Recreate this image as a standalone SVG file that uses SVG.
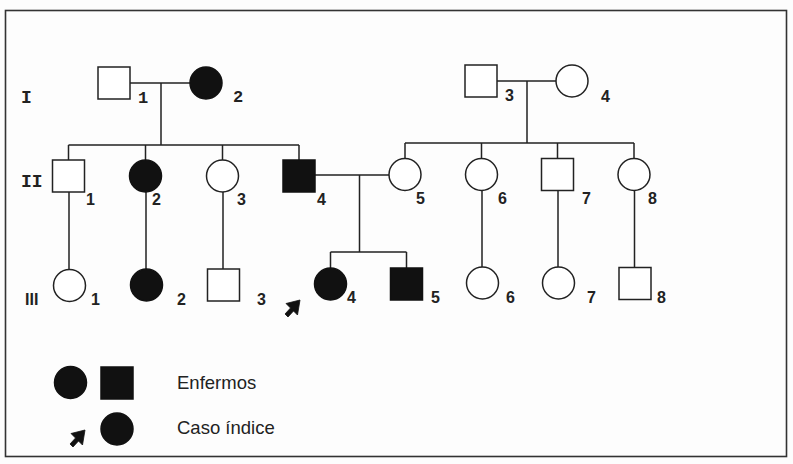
<svg xmlns="http://www.w3.org/2000/svg" width="793" height="464" viewBox="0 0 793 464">
<style>
.bg{fill:#fdfdfd}
.frame{fill:none;stroke:#333;stroke-width:1.6}
.o{fill:#fff;stroke:#222;stroke-width:1.5}
.f{fill:#111;stroke:#111;stroke-width:1.5}
.ln{fill:none;stroke:#222;stroke-width:1.5}
.mono{font-family:"Liberation Mono","DejaVu Sans Mono",monospace;font-weight:bold;fill:#222}
.num{font-family:"Liberation Sans",Arial,sans-serif;font-weight:bold;font-size:16px;fill:#222}
.leg{font-family:"Liberation Sans",Arial,sans-serif;font-size:18.5px;fill:#222}
</style>
<defs>
<path id="arrow" d="M0,0 L-14,3.5 L-9.5,8 L-15,14 L-12,17 L-6.5,11 L-2.5,15 Z" fill="#111" stroke="#111" stroke-width="0.8" stroke-linejoin="round"/>
</defs>
<rect class="bg" x="0" y="0" width="793" height="464"/>
<rect class="frame" x="5.5" y="10.5" width="781" height="446"/>

<g id="generation-labels">
<text class="mono" x="21" y="103" font-size="18">I</text>
<text class="mono" x="21" y="187" font-size="18">II</text>
<text class="num" x="25" y="305" font-size="14">III</text>
</g>

<g id="connectors">
<path class="ln" d="M130,83 H190 M161,83 V145 M68.5,145 H299 M68.5,145 V160 M145.5,145 V160 M222.5,145 V160 M299,145 V160"/>
<path class="ln" d="M497,81 H556 M527,81 V143 M405,143 H634 M405,143 V158.5 M481.5,143 V158.5 M557.5,143 V158.5 M634,143 V158.5"/>
<path class="ln" d="M315,175 H389 M359.5,175 V252 M330.5,252 H406.5 M330.5,252 V268 M406.5,252 V268"/>
<path class="ln" d="M69,192 V269.5 M146,192 V269 M223,192 V269 M482,190.5 V267 M558,190.5 V267 M634.5,190.5 V267.5"/>
</g>

<g id="I-1"><rect class="o" x="98" y="67" width="32" height="32"/><text class="mono" x="138" y="103" font-size="17">1</text></g>
<g id="I-2"><circle class="f" cx="206" cy="83" r="16"/><text class="mono" x="233" y="102" font-size="17">2</text></g>
<g id="I-3"><rect class="o" x="465" y="65" width="32" height="32"/><text class="num" x="505" y="101">3</text></g>
<g id="I-4"><circle class="o" cx="572" cy="81" r="16"/><text class="num" x="601" y="102">4</text></g>

<g id="II-1"><rect class="o" x="52.5" y="160" width="32" height="32"/><text class="num" x="86" y="205">1</text></g>
<g id="II-2"><circle class="f" cx="145.5" cy="176" r="16"/><text class="num" x="152" y="205">2</text></g>
<g id="II-3"><circle class="o" cx="222.5" cy="176" r="16"/><text class="num" x="237" y="205">3</text></g>
<g id="II-4"><rect class="f" x="283" y="160" width="32" height="32"/><text class="num" x="317" y="205">4</text></g>
<g id="II-5"><circle class="o" cx="405" cy="174.5" r="16"/><text class="num" x="416" y="204">5</text></g>
<g id="II-6"><circle class="o" cx="481.5" cy="174.5" r="16"/><text class="num" x="498" y="204">6</text></g>
<g id="II-7"><rect class="o" x="541.5" y="158.5" width="32" height="32"/><text class="num" x="582" y="204">7</text></g>
<g id="II-8"><circle class="o" cx="634" cy="174.5" r="16"/><text class="num" x="648" y="204">8</text></g>

<g id="III-1"><circle class="o" cx="69.5" cy="285.5" r="16"/><text class="num" x="91" y="305">1</text></g>
<g id="III-2"><circle class="f" cx="146.5" cy="285" r="16"/><text class="num" x="177" y="305">2</text></g>
<g id="III-3"><rect class="o" x="207.5" y="269" width="32" height="32"/><text class="num" x="257" y="305">3</text></g>
<g id="III-4"><circle class="f" cx="330.5" cy="284" r="16"/><text class="num" x="347" y="303">4</text><use href="#arrow" x="300" y="300"/></g>
<g id="III-5"><rect class="f" x="390.5" y="268" width="32" height="32"/><text class="num" x="431" y="303">5</text></g>
<g id="III-6"><circle class="o" cx="482.5" cy="283" r="16"/><text class="num" x="506" y="303">6</text></g>
<g id="III-7"><circle class="o" cx="558.5" cy="283" r="16"/><text class="num" x="587" y="303">7</text></g>
<g id="III-8"><rect class="o" x="619" y="267.5" width="32" height="32"/><text class="num" x="657" y="303">8</text></g>

<g id="legend">
<circle class="f" cx="70.5" cy="382.5" r="16"/>
<rect class="f" x="101" y="367" width="32" height="32"/>
<text class="leg" x="177" y="389">Enfermos</text>
<use href="#arrow" x="85" y="430"/>
<circle class="f" cx="117" cy="429" r="16"/>
<text class="leg" x="177" y="434">Caso índice</text>
</g>
</svg>
